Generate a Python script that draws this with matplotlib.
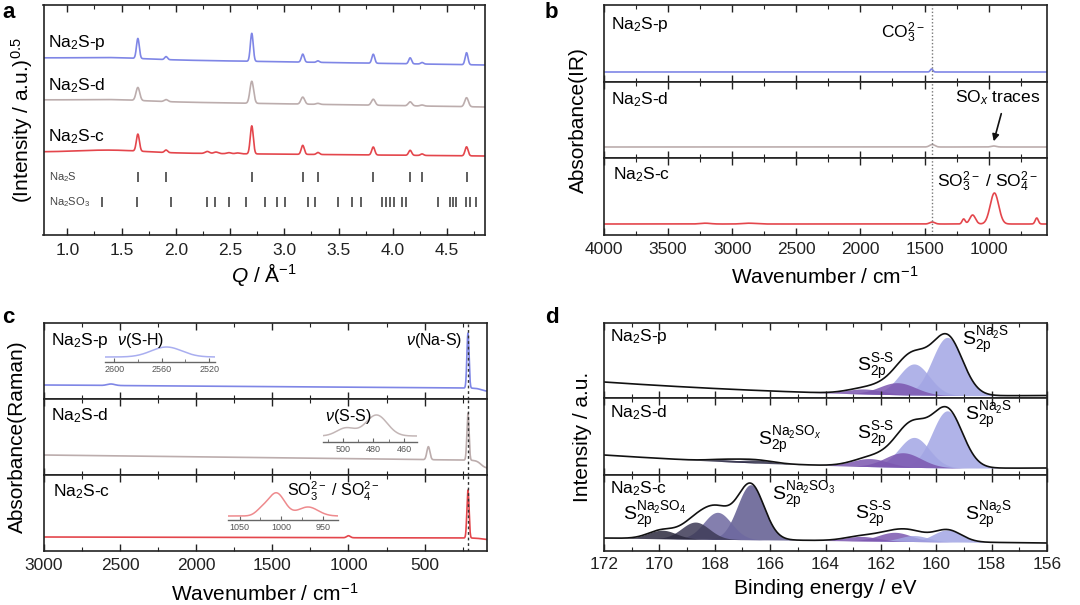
import numpy as np
import matplotlib
matplotlib.use('Agg')
import matplotlib.pyplot as plt
from matplotlib.ticker import MultipleLocator

plt.rcParams['font.family'] = ['Liberation Sans', 'DejaVu Sans']
plt.rcParams['mathtext.fontset'] = 'custom'
plt.rcParams['mathtext.rm'] = 'Liberation Sans'
plt.rcParams['mathtext.it'] = 'Liberation Sans:italic'
plt.rcParams['mathtext.bf'] = 'Liberation Sans:bold'

# ---------------- data ----------------
samples = ['Na$_2$S-p', 'Na$_2$S-d', 'Na$_2$S-c']
line_colors = ['#7f86e6', '#bcadad', '#e4464c']
inset_colors = ['#a9aef0', '#c3b6b6', '#ee8a8d']

# (a) XRD
xrd_peak_q = [1.65, 1.91, 2.70, 3.17, 3.31, 3.82, 4.16, 4.27, 4.68]
xrd_p_height = [20, 3, 28, 8, 1.5, 9, 6, 1.5, 12]
xrd_d_height = [13, 2, 22, 7, 1, 6, 4, 1, 9]
xrd_c_height = [17, 2.5, 28, 9, 2, 8, 5, 1.5, 9]
xrd_c_extra_q = [2.29, 2.37, 2.49, 2.57]
xrd_c_extra_h = [2.0, 1.5, 1.0, 0.8]
xrd_sigma = [0.013, 0.017, 0.014]
xrd_base_left = [177, 135, 83]
xrd_base_right = [170, 128, 79]
xrd_hump = [1.5, 1.5, 2.5]
na2s_ref_q = [1.65, 1.91, 2.70, 3.17, 3.31, 3.82, 4.16, 4.27, 4.68]
na2so3_ref_q = [1.316, 1.645, 1.952, 2.290, 2.357, 2.486, 2.643, 2.818, 2.928,
                3.008, 3.217, 3.284, 3.499, 3.628, 3.711, 3.901, 3.941, 3.972,
                4.009, 4.086, 4.122, 4.420, 4.525, 4.552, 4.580, 4.678, 4.715,
                4.767]

# (b) IR
ir_base = [10, 11, 11]
ir_p_pos, ir_p_h, ir_p_s = [1445], [3], [10]
ir_d_pos, ir_d_h, ir_d_s = [1440, 960], [2.5, 1.0], [20, 20]
ir_c_pos = [3210, 2870, 1440, 1195, 1125, 955, 625]
ir_c_h = [0.8, 0.8, 2, 5, 9, 31, 6]
ir_c_s = [40, 50, 20, 12, 22, 33, 12]
ir_marker = 1445

# (c) Raman
raman_base_left = [14, 20, 14]
raman_base_right = [11, 15, 13]
raman_tail_drop = [3, 8, 1.5]
raman_p_pos, raman_p_h, raman_p_s = [2560, 215], [1.5, 55], [25, 7]
raman_d_pos, raman_d_h, raman_d_s = [475, 215], [13, 47], [10, 7]
raman_c_pos, raman_c_h, raman_c_s = [1000, 215], [2, 48], [12, 7]
raman_marker = 215
inset_sh_pos, inset_sh_h, inset_sh_s, inset_sh_base = [2556], [10], [13], 5
inset_ss_pos, inset_ss_h, inset_ss_s, inset_ss_base = [498, 478], [8, 21], [6, 7], 6
inset_so_pos, inset_so_h, inset_so_s, inset_so_base = [1024, 1006, 968], [5, 23, 9], [7, 10, 12], 4

# (d) XPS
xps_bg = [(2.5, -0.196, 0.065), (7.0, -0.168, 0.0613), (8.0, 0.31, 0.0)]
xps_p_center = [159.6, 160.8, 161.4, 162.6]
xps_p_height = [58, 31, 12, 5]
xps_p_sigma = [0.55, 0.55, 0.65, 0.65]
xps_p_kind = ['na2s', 'na2s', 'ss', 'ss']
xps_d_center = [159.6, 160.8, 161.2, 162.4, 166.5, 167.6]
xps_d_height = [57, 30, 14.5, 8, 3, 2]
xps_d_sigma = [0.55, 0.55, 0.65, 0.65, 0.6, 0.6]
xps_d_kind = ['na2s', 'na2s', 'ss', 'ss', 'sox', 'sox']
xps_c_center = [159.6, 160.8, 161.5, 162.7, 166.7, 167.9, 168.7, 169.9]
xps_c_height = [12, 6, 9, 4.5, 55, 27, 17, 8.5]
xps_c_sigma = [0.5, 0.5, 0.6, 0.6, 0.48, 0.5, 0.5, 0.5]
xps_c_kind = ['na2s', 'na2s', 'ss', 'ss', 'so3', 'so3b', 'so4', 'so4b']
xps_colors = {'na2s': '#a3a6e4', 'ss': '#7c57b0', 'sox': '#2e2c48',
              'so3': '#5f5b8f', 'so3b': '#6e69a0', 'so4': '#3d3a56', 'so4b': '#2c2a3e'}

# ---------------- helpers ----------------
W, H = 1080, 605
fig = plt.figure(figsize=(10.8, 6.05), dpi=100)
SP = '#222222'


def box(l, t, r, b):
    return [l / W, 1 - b / H, (r - l) / W, (b - t) / H]


def ftext(x, y, s, **kw):
    kw.setdefault('va', 'center')
    fig.text(x / W, 1 - y / H, s, **kw)


def peaks(x, pos, h, s):
    y = np.zeros_like(x)
    for c, hh, ss in zip(pos, h, s):
        y += hh * np.exp(-0.5 * ((x - c) / ss) ** 2)
    return y


def style(ax, major, minor, labelbottom=True, pad=5):
    ax.xaxis.set_major_locator(MultipleLocator(major))
    ax.xaxis.set_minor_locator(MultipleLocator(minor))
    ax.tick_params(axis='x', which='both', direction='in', top=True, bottom=True,
                   labelbottom=labelbottom, labelsize=12.5, color=SP, labelcolor='#222', pad=pad)
    ax.tick_params(axis='x', which='major', length=5, width=1.0)
    ax.tick_params(axis='x', which='minor', length=3, width=0.8)
    ax.set_yticks([])
    for s in ax.spines.values():
        s.set_linewidth(1.2)
        s.set_color(SP)


# ---------------- (a) ----------------
axa = fig.add_axes(box(43.5, 5, 485, 235))
q = np.linspace(0.78, 4.85, 4000)
xrd_heights = [xrd_p_height, xrd_d_height, xrd_c_height]
for i in range(3):
    base = xrd_base_left[i] + (xrd_base_right[i] - xrd_base_left[i]) * (q - q[0]) / (q[-1] - q[0])
    base += xrd_hump[i] * np.exp(-0.5 * ((q - 1.4) / 0.3) ** 2)
    y = base + peaks(q, xrd_peak_q, xrd_heights[i], [xrd_sigma[i]] * len(xrd_peak_q))
    if i == 2:
        y += peaks(q, xrd_c_extra_q, xrd_c_extra_h, [0.02] * len(xrd_c_extra_q))
    axa.plot(q, y, color=line_colors[i], lw=1.2)
axa.vlines(na2s_ref_q, 53, 63, color='#333', lw=1.1)
axa.vlines(na2so3_ref_q, 28, 38, color='#333', lw=1.1)
axa.set_xlim(0.78, 4.85)
axa.set_ylim(0, 230)
style(axa, 0.5, 0.25, pad=6)
for lab, yy in zip(samples, [43, 86, 137]):
    ftext(48, yy, lab, fontsize=12.5)
ftext(49, 177, 'Na$_2$S', fontsize=8, color='#444')
ftext(49, 202, 'Na$_2$SO$_3$', fontsize=8, color='#444')
ftext(22, 120, '(Intensity / a.u.)$^{0.5}$', fontsize=15, rotation=90, ha='center')
ftext(264, 274, '$Q$ / Å$^{-1}$', fontsize=15, ha='center')
ftext(2, 13, 'a', fontsize=16, fontweight='bold')

# ---------------- (b) ----------------
wn = np.linspace(4000, 545, 3000)
ir_sets = [(ir_p_pos, ir_p_h, ir_p_s), (ir_d_pos, ir_d_h, ir_d_s), (ir_c_pos, ir_c_h, ir_c_s)]
b_rows = [(5, 82), (82, 158), (158, 235)]
for i, (t, b) in enumerate(b_rows):
    ax = fig.add_axes(box(604, t, 1047, b))
    y = ir_base[i] + peaks(wn, *ir_sets[i])
    ax.plot(wn, y, color=line_colors[i], lw=1.2)
    ax.axvline(ir_marker, color='#777', lw=1.0, ls=(0, (1, 1.5)))
    ax.set_xlim(4000, 545)
    ax.set_ylim(0, b - t)
    style(ax, 500, 250, labelbottom=(i == 2), pad=5)
ftext(611, 25, samples[0], fontsize=12.5)
ftext(611, 100, samples[1], fontsize=12.5)
ftext(613, 175, samples[2], fontsize=12.5)
ftext(925, 33, 'CO$_3^{2-}$', fontsize=12.5, ha='right')
ftext(955, 98, 'SO$_x$ traces', fontsize=12.5)
ftext(937, 182, 'SO$_3^{2-}$ / SO$_4^{2-}$', fontsize=12.5)
fig.add_artist(matplotlib.patches.FancyArrowPatch(
    (1002 / W, 1 - 111 / H), (993 / W, 1 - 144 / H), transform=fig.transFigure,
    arrowstyle='-|>', mutation_scale=10, color='#111', lw=1.2))
ftext(578, 120, 'Absorbance(IR)', fontsize=15, rotation=90, ha='center')
ftext(825, 277, 'Wavenumber / cm$^{-1}$', fontsize=15, ha='center')
ftext(545, 13, 'b', fontsize=16, fontweight='bold')

# ---------------- (c) ----------------
rx = np.linspace(3000, 90, 4000)
raman_sets = [(raman_p_pos, raman_p_h, raman_p_s), (raman_d_pos, raman_d_h, raman_d_s),
              (raman_c_pos, raman_c_h, raman_c_s)]
c_rows = [(323, 399), (399, 475), (475, 551)]
for i, (t, b) in enumerate(c_rows):
    ax = fig.add_axes(box(44, t, 487, b))
    base = raman_base_left[i] + (raman_base_right[i] - raman_base_left[i]) * (3000 - rx) / 2700
    base -= raman_tail_drop[i] / (1 + np.exp((rx - 130) / 15))
    y = base + peaks(rx, *raman_sets[i])
    ax.plot(rx, y, color=line_colors[i], lw=1.2)
    ax.axvline(raman_marker, color='#333', lw=1.0, ls=(0, (2, 2)))
    ax.set_xlim(3000, 90)
    ax.set_ylim(0, b - t)
    style(ax, 500, 250, labelbottom=(i == 2), pad=5)


def inset(l, t, r, b, xlim, major, minor, pos, h, s, base, color):
    ax = fig.add_axes(box(l, t, r, b))
    ax.patch.set_alpha(0)
    x = np.linspace(xlim[0], xlim[1], 500)
    ax.plot(x, base + peaks(x, pos, h, s), color=color, lw=1.1)
    ax.set_xlim(*xlim)
    ax.set_ylim(0, b - t)
    for k in ['top', 'left', 'right']:
        ax.spines[k].set_visible(False)
    ax.spines['bottom'].set_color('#666')
    ax.spines['bottom'].set_linewidth(1.0)
    ax.set_yticks([])
    ax.xaxis.set_major_locator(MultipleLocator(major))
    ax.xaxis.set_minor_locator(MultipleLocator(minor))
    ax.tick_params(axis='x', which='both', direction='in', color='#666',
                   labelsize=6.5, labelcolor='#555', pad=2.5)
    ax.tick_params(axis='x', which='major', length=3, width=0.8)
    ax.tick_params(axis='x', which='minor', length=2, width=0.6)


inset(105, 337, 215, 362, (2608, 2515), 40, 20, inset_sh_pos, inset_sh_h, inset_sh_s, inset_sh_base, inset_colors[0])
inset(323, 408, 417, 442, (513, 451.5), 20, 10, inset_ss_pos, inset_ss_h, inset_ss_s, inset_ss_base, inset_colors[1])
inset(228, 488, 338, 520, (1064, 932), 50, 25, inset_so_pos, inset_so_h, inset_so_s, inset_so_base, inset_colors[2])
ftext(51, 341, samples[0], fontsize=12.5)
ftext(51, 416, samples[1], fontsize=12.5)
ftext(53, 492, samples[2], fontsize=12.5)
ftext(117, 341, r'$\nu$(S-H)', fontsize=11.5)
ftext(462, 341, r'$\nu$(Na-S)', fontsize=11.5, ha='right')
ftext(325, 416, r'$\nu$(S-S)', fontsize=11.5)
ftext(287, 491, 'SO$_3^{2-}$ / SO$_4^{2-}$', fontsize=11.5)
ftext(17, 437, 'Absorbance(Raman)', fontsize=15, rotation=90, ha='center')
ftext(265, 594, 'Wavenumber / cm$^{-1}$', fontsize=15, ha='center')
ftext(2, 317, 'c', fontsize=16, fontweight='bold')

# ---------------- (d) ----------------
E = np.linspace(172, 156, 2000)
xps_sets = [(xps_p_center, xps_p_height, xps_p_sigma, xps_p_kind),
            (xps_d_center, xps_d_height, xps_d_sigma, xps_d_kind),
            (xps_c_center, xps_c_height, xps_c_sigma, xps_c_kind)]
d_rows = [(323, 398), (398, 475), (475, 551)]
for i, (t, b) in enumerate(d_rows):
    ax = fig.add_axes(box(604, t, 1047, b))
    c0, c1, c2 = xps_bg[i]
    bg = c0 + c1 * (E - 156) + c2 * (E - 156) ** 2
    cen, hei, sig, kind = xps_sets[i]
    total = bg.copy()
    order = np.argsort(hei)[::-1]
    for j in order:
        comp = peaks(E, [cen[j]], [hei[j]], [sig[j]])
        total += comp
        ax.fill_between(E, bg, bg + comp, color=xps_colors[kind[j]], alpha=0.85, lw=0)
    ax.plot(E, total, color='#111', lw=1.2)
    ax.set_xlim(172, 156)
    ax.set_ylim(0, b - t)
    style(ax, 2, 1, labelbottom=(i == 2), pad=4)

lab_na2s = r'$\mathrm{S}_{\mathrm{2p}}^{\mathrm{Na_2S}}$'
lab_ss = r'$\mathrm{S}_{\mathrm{2p}}^{\mathrm{S‐S}}$'
lab_sox = r'$\mathrm{S}_{\mathrm{2p}}^{\mathrm{Na_2SO}_x}$'
lab_so3 = r'$\mathrm{S}_{\mathrm{2p}}^{\mathrm{Na_2SO_3}}$'
lab_so4 = r'$\mathrm{S}_{\mathrm{2p}}^{\mathrm{Na_2SO_4}}$'
ftext(610, 336, samples[0], fontsize=12.5)
ftext(610, 413, samples[1], fontsize=12.5)
ftext(610, 489, samples[2], fontsize=12.5)
ftext(857, 367, lab_ss, fontsize=14)
ftext(962, 340, lab_na2s, fontsize=14)
ftext(758, 440, lab_sox, fontsize=14)
ftext(857, 435, lab_ss, fontsize=14)
ftext(965, 415, lab_na2s, fontsize=14)
ftext(623, 515, lab_so4, fontsize=14)
ftext(772, 495, lab_so3, fontsize=14)
ftext(855, 515, lab_ss, fontsize=14)
ftext(965, 515, lab_na2s, fontsize=14)
ftext(583, 437, 'Intensity / a.u.', fontsize=15, rotation=90, ha='center')
ftext(825, 589, 'Binding energy / eV', fontsize=15, ha='center')
ftext(545, 317, 'd', fontsize=16, fontweight='bold')

fig.savefig('out.png', dpi=100)
